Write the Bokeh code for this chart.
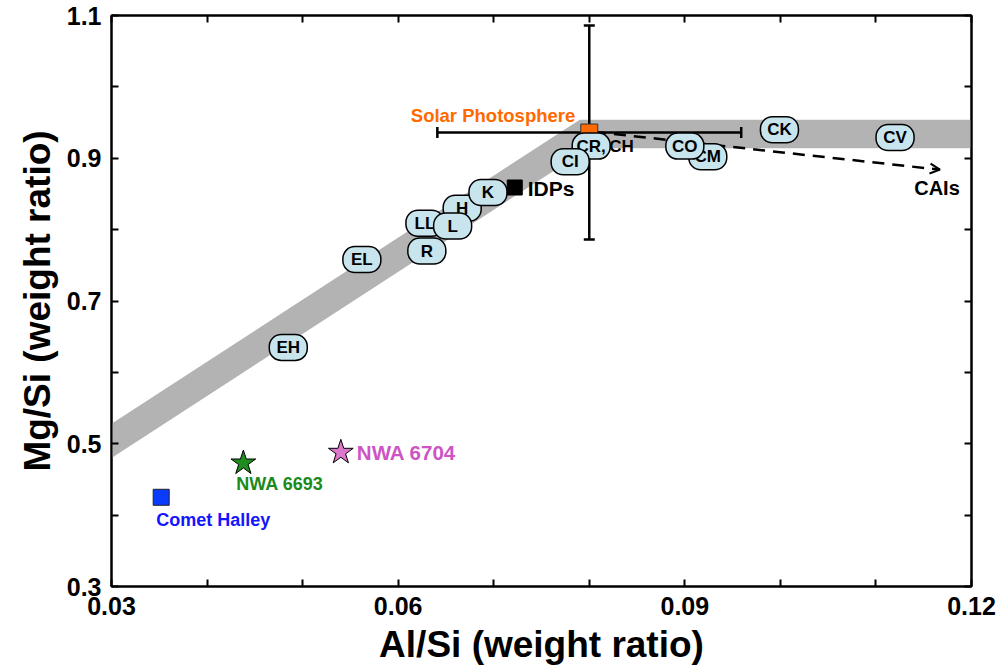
import math

from bokeh.plotting import figure
from bokeh.models import (Range1d, FixedTicker, LinearAxis, Arrow, OpenHead,
                          CustomJSTickFormatter)
from bokeh.core.properties import value
from bokeh.embed import file_html
from bokeh.resources import INLINE

FONT = "Liberation Sans"

# Chondrite groups (drawing order sets the overlap)
group_names = ["EH", "EL", "R", "LL", "H", "L", "K", "CR,", "CI", "CM", "CO", "CK", "CV"]
group_al = [0.0485, 0.0562, 0.0630, 0.0628, 0.0667, 0.0657, 0.0694,
            0.0802, 0.0780, 0.0924, 0.0900, 0.0999, 0.1120]
group_mg = [0.635, 0.758, 0.770, 0.809, 0.830, 0.805, 0.852,
            0.917, 0.895, 0.902, 0.917, 0.940, 0.929]

# Chondrite trend band: x, lower and upper Mg/Si edges
band_al = [0.030, 0.0790, 0.0800, 0.120]
band_lo = [0.480, 0.906, 0.914, 0.914]
band_hi = [0.528, 0.954, 0.954, 0.954]

# Solar photosphere with uncertainties
sun_al, sun_mg = [0.0800], [0.936]
sun_al_err, sun_mg_err = [0.0159], [0.150]

# Other reservoirs
idp_al, idp_mg = [0.0722], [0.859]
halley_al, halley_mg = [0.0352], [0.425]
nwa6693_al, nwa6693_mg = [0.0438], [0.473]
nwa6704_al, nwa6704_mg = [0.0540], [0.488]

# CAI addition trend (start, end)
cai_al = [0.0805, 0.1167]
cai_mg = [0.937, 0.884]

x_major = [0.03, 0.06, 0.09, 0.12]
x_minor = [0.04, 0.05, 0.07, 0.08, 0.10, 0.11]
y_major = [0.3, 0.5, 0.7, 0.9, 1.1]
y_minor = [0.4, 0.6, 0.8, 1.0]

p = figure(width=998, height=668, output_backend="svg", toolbar_location=None,
           x_range=Range1d(0.03, 0.12), y_range=Range1d(0.3, 1.1),
           min_border_left=111, min_border_right=27, min_border_top=15,
           min_border_bottom=82, background_fill_color="white",
           border_fill_color="white")
p.grid.visible = False
p.outline_line_color = "black"
p.outline_line_width = 2


def style_axis(ax, ticks, minor, show_labels):
    ax.ticker = FixedTicker(ticks=ticks, minor_ticks=minor)
    ax.major_tick_in = 7
    ax.major_tick_out = 0
    ax.minor_tick_in = 7
    ax.minor_tick_out = 0
    ax.major_tick_line_width = 2
    ax.minor_tick_line_width = 2
    ax.axis_line_width = 2
    ax.major_label_text_font = FONT
    ax.major_label_text_font_style = "bold"
    ax.major_label_text_font_size = "25px"
    ax.major_label_text_color = "black"
    if not show_labels:
        ax.formatter = CustomJSTickFormatter(code="return ''")
        ax.major_label_text_font_size = "1px"
        ax.major_label_standoff = 0


xa = p.xaxis[0]
ya = p.yaxis[0]
style_axis(xa, x_major, x_minor, True)
style_axis(ya, y_major, y_minor, True)
xa.major_label_standoff = 10
ya.major_label_standoff = 10
xa.axis_label = "Al/Si (weight ratio)"
ya.axis_label = "Mg/Si (weight ratio)"
for ax in (xa, ya):
    ax.axis_label_text_font = FONT
    ax.axis_label_text_font_style = "bold"
    ax.axis_label_text_font_size = "37px"
    ax.axis_label_text_color = "black"
    ax.axis_label_text_line_height = 1.0
xa.axis_label_standoff = 6
ya.axis_label_standoff = 6

top = LinearAxis()
right = LinearAxis()
style_axis(top, x_major, x_minor, False)
style_axis(right, y_major, y_minor, False)
p.add_layout(top, "above")
p.add_layout(right, "right")

# Chondrite band
p.varea(x=band_al, y1=band_lo, y2=band_hi, fill_color="#b3b3b3")

# Solar photosphere error bars with caps
sun_xl = [a - e for a, e in zip(sun_al, sun_al_err)]
sun_xu = [a + e for a, e in zip(sun_al, sun_al_err)]
sun_yl = [m - e for m, e in zip(sun_mg, sun_mg_err)]
sun_yu = [m + e for m, e in zip(sun_mg, sun_mg_err)]
p.segment(x0=sun_al, y0=sun_yl, x1=sun_al, y1=sun_yu, line_color="black",
          line_width=2.5)
p.segment(x0=sun_xl, y0=sun_mg, x1=sun_xu, y1=sun_mg, line_color="black",
          line_width=2.5)
p.scatter(sun_al * 2, sun_yl + sun_yu, marker="dash", size=11,
          line_color="black", line_width=2.5)
p.scatter(sun_xl + sun_xu, sun_mg * 2, marker="dash", size=11, angle=math.pi / 2,
          line_color="black", line_width=2.5)

# CAI trend: dashed shaft, open arrow head
p.segment(x0=[cai_al[0]], y0=[cai_mg[0]], x1=[cai_al[1]], y1=[cai_mg[1]],
          line_color="black", line_width=2.5, line_dash="12 8")
p.add_layout(Arrow(x_start=cai_al[0], y_start=cai_mg[0],
                   x_end=cai_al[1], y_end=cai_mg[1], line_alpha=0,
                   end=OpenHead(size=10, line_width=2, line_color="black")))

p.scatter(sun_al, sun_mg, marker="square", size=17, fill_color="#ff6a00",
          line_color="#333333", line_width=1)

# Chondrite group bubbles
for name, a, m in zip(group_names, group_al, group_mg):
    p.rect(x=[a], y=[m], width=38, height=26, width_units="screen",
           height_units="screen", fill_color="#c8e5ee", line_color="black",
           line_width=1.5, border_radius=12)
    p.text(x=[a], y=[m], text=[name], text_align="center",
           text_baseline="middle", text_font=value(FONT),
           text_font_style="bold", text_font_size="17px", text_color="black")

p.text(x=[group_al[7]], y=[group_mg[7]], text=["CH"], x_offset=18,
       text_align="left", text_baseline="middle", text_font=value(FONT),
       text_font_style="bold", text_font_size="17px", text_color="black")

# Other reservoirs
p.scatter(idp_al, idp_mg, marker="square", size=15, fill_color="black",
          line_color="black")
p.scatter(halley_al, halley_mg, marker="square", size=16, fill_color="#0a3cff",
          line_color="#222222", line_width=1)
p.scatter(nwa6693_al, nwa6693_mg, marker="star", size=26, fill_color="#1e8c1e",
          line_color="black", line_width=1)
p.scatter(nwa6704_al, nwa6704_mg, marker="star", size=26, fill_color="#dd77cc",
          line_color="black", line_width=1)


def label(x, y, txt, color, size, align="left", xo=0, yo=0):
    p.text(x=x, y=y, text=[txt], x_offset=xo, y_offset=yo, text_align=align,
           text_baseline="middle", text_font=value(FONT),
           text_font_style="bold", text_font_size=size, text_color=color)


label(sun_al, sun_mg, "Solar Photosphere", "#ff6a00", "18.5px", "right", -14, -17)
label(idp_al, idp_mg, "IDPs", "black", "21px", "left", 13, 1)
label([cai_al[1]], [cai_mg[1]], "CAIs", "black", "20px", "center", -3, 18)
label(halley_al, halley_mg, "Comet Halley", "#1414ff", "18px", "left", -5, 23)
label(nwa6693_al, nwa6693_mg, "NWA 6693", "#1a8a1a", "18px", "left", -7, 21)
label(nwa6704_al, nwa6704_mg, "NWA 6704", "#cc55c4", "20.5px", "left", 16, 0)

open("out.html", "w").write(file_html(p, INLINE))
